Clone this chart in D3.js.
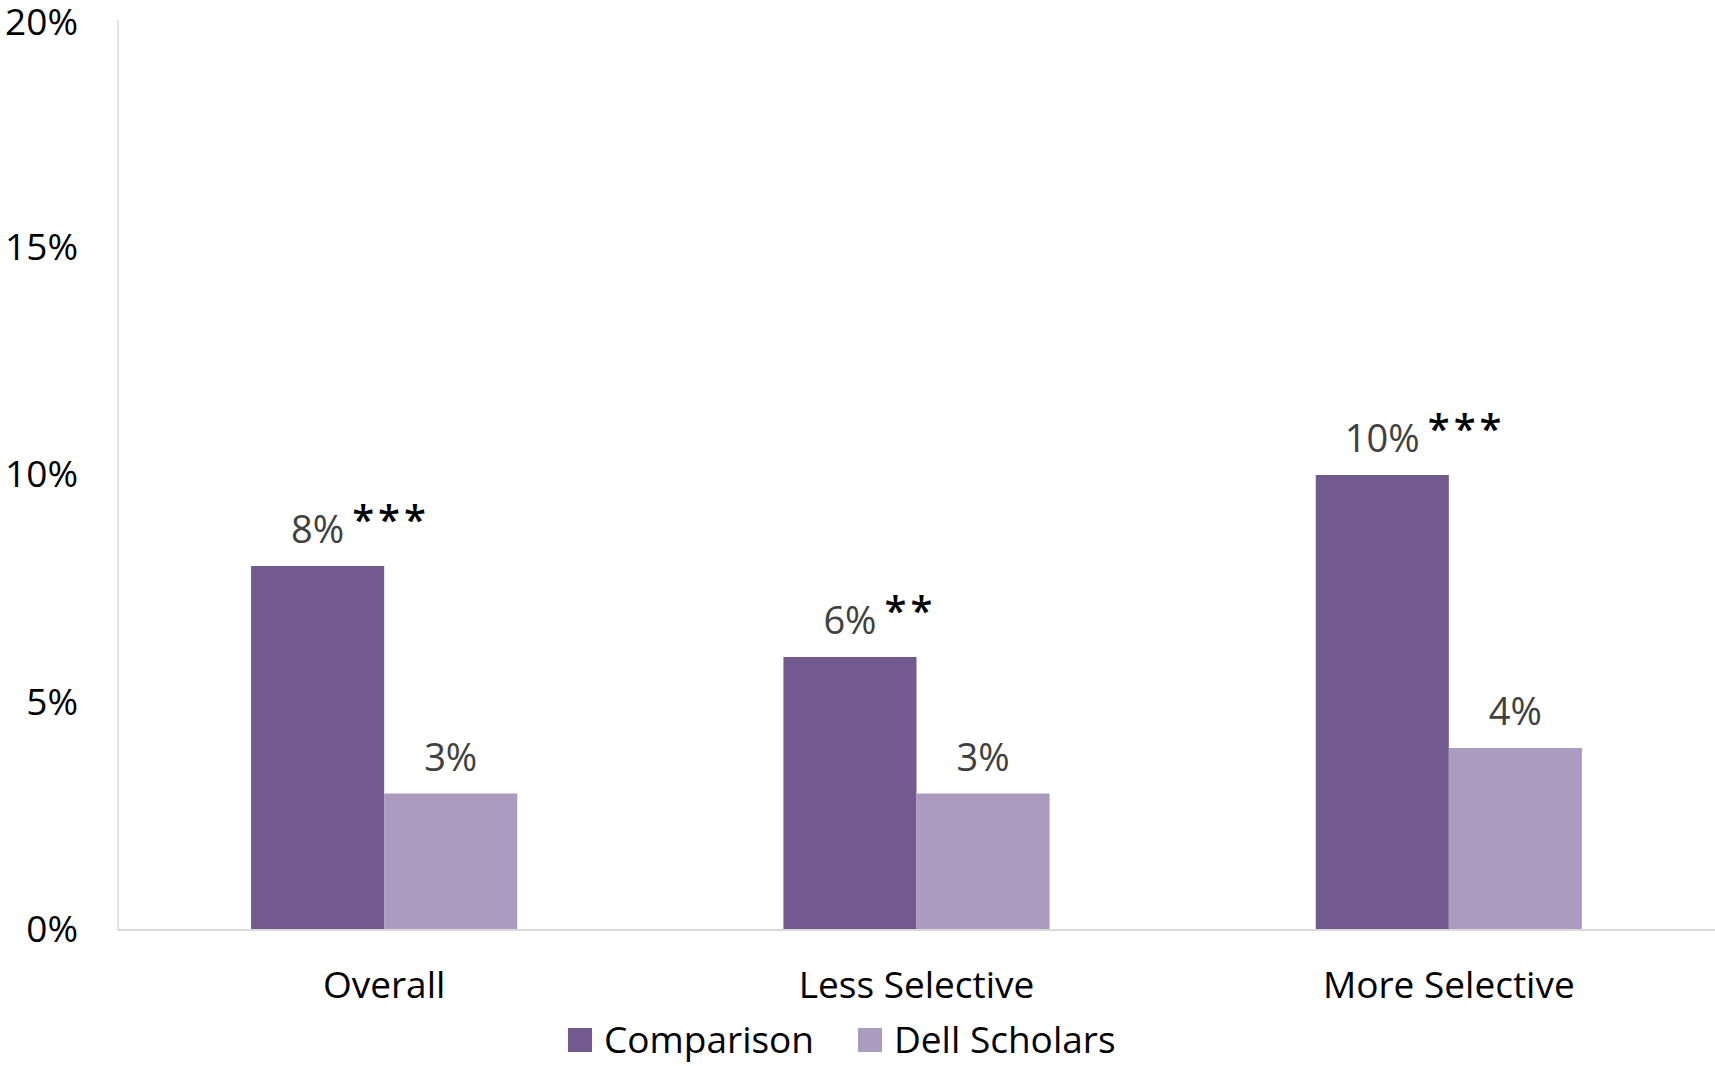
<!DOCTYPE html>
<html><head><meta charset="utf-8">
<script src="https://cdn.jsdelivr.net/npm/d3@7"></script>
<style>
html,body{margin:0;padding:0;background:#fff;}
svg{display:block;font-family:"Open Sans",sans-serif;}
</style></head>
<body><svg id="chart" width="1715" height="1066"></svg>
<script>
const categories = ["Overall", "Less Selective", "More Selective"];
const seriesNames = ["Comparison", "Dell Scholars"];
const comparison = [8, 6, 10];
const dellScholars = [3, 3, 4];
const significance = ["***", "**", "***"];
const yTicks = [0, 5, 10, 15, 20];
const colors = ["#725A8E", "#AA9BBF"];

const W = 1715, H = 1066;
const m = {left: 118, right: 0, top: 20, bottom: 136};
const svg = d3.select("#chart");
const x = d3.scaleBand().domain(categories).range([m.left, W - m.right]).paddingInner(0.5).paddingOuter(0.25);
const xs = d3.scaleBand().domain(seriesNames).range([0, x.bandwidth()]);
const y = d3.scaleLinear().domain([0, 20]).range([H - m.bottom, m.top]);

const rows = categories.map((c, i) => ({cat: c, vals: [comparison[i], dellScholars[i]], sig: significance[i]}));

// y axis line
svg.append("line").attr("x1", m.left).attr("x2", m.left).attr("y1", y(20)).attr("y2", y(0))
  .attr("stroke", "#D9D9D9").attr("stroke-width", 1.5);

// y tick labels
const yAxis = d3.axisLeft(y).tickValues(yTicks).tickFormat(d => d + "%").tickSize(0).tickPadding(40);
const ya = svg.append("g").attr("transform", `translate(${m.left},0)`).call(yAxis);
ya.select(".domain").remove();
ya.selectAll("text").attr("font-size", 37).attr("fill", "#000").attr("font-family", "Open Sans, sans-serif")
  .attr("dy", (d) => d === 20 ? "0.38em" : "0.32em");

// bars
const g = svg.append("g");
rows.forEach(r => {
  const gg = g.append("g").attr("transform", `translate(${x(r.cat)},0)`);
  gg.selectAll("rect").data(r.vals).join("rect")
    .attr("x", (d, j) => xs(seriesNames[j]))
    .attr("width", xs.bandwidth())
    .attr("y", d => y(d))
    .attr("height", d => y(0) - y(d))
    .attr("fill", (d, j) => colors[j]);
  gg.selectAll("text.val").data(r.vals).join("text").attr("class", "val")
    .attr("x", (d, j) => xs(seriesNames[j]) + xs.bandwidth() / 2)
    .attr("y", d => y(d) - 23)
    .attr("text-anchor", "middle")
    .attr("font-size", 38).attr("fill", "#404040")
    .text(d => d + "%");
  // significance stars
  const lbl = gg.select("text.val").node();
  const bb = lbl.getBBox();
  gg.append("text")
    .attr("x", bb.x + bb.width + 8)
    .attr("y", y(r.vals[0]) - 32)
    .attr("font-size", 40).attr("fill", "#000").attr("letter-spacing", 4)
    .attr("font-weight", 600)
    .attr("font-family", "Open Sans, sans-serif")
    .text(r.sig);
});

// x axis
svg.append("line").attr("x1", m.left).attr("x2", W).attr("y1", y(0)).attr("y2", y(0))
  .attr("stroke", "#D9D9D9").attr("stroke-width", 2);
const xAxis = d3.axisBottom(x).tickSize(0).tickPadding(42);
const xa = svg.append("g").attr("transform", `translate(0,${y(0)})`).call(xAxis);
xa.select(".domain").remove();
xa.selectAll("text").attr("font-size", 37).attr("fill", "#000").attr("font-family", "Open Sans, sans-serif");

// legend
const leg = svg.append("g").attr("transform", "translate(568,1040)");
const legX = [0, 290];
seriesNames.forEach((s, j) => {
  const lg = leg.append("g").attr("transform", `translate(${legX[j]},0)`);
  lg.append("rect").attr("x", 0).attr("y", -12).attr("width", 24).attr("height", 24).attr("fill", colors[j]);
  lg.append("text").attr("x", 36).attr("y", 0).attr("dy", "0.35em").attr("font-size", 37).attr("fill", "#000").text(s);
});
</script></body></html>
